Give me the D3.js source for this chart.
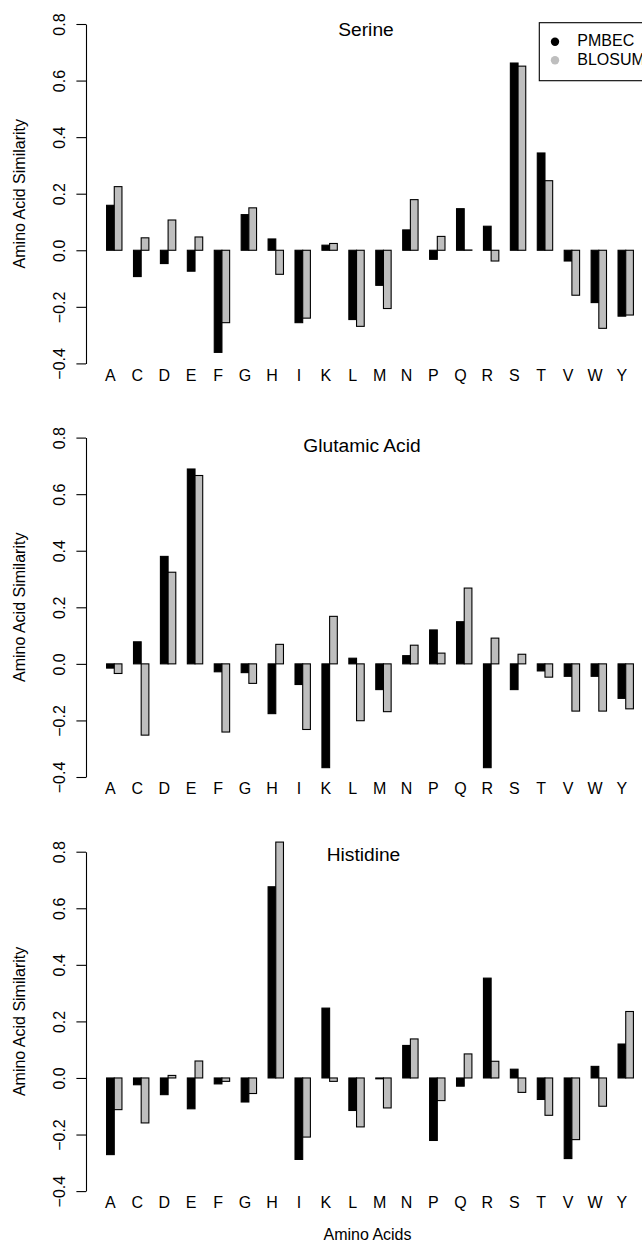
<!DOCTYPE html>
<html><head><meta charset="utf-8">
<script src="https://cdn.jsdelivr.net/npm/d3@7/dist/d3.min.js"></script>
<style>
body{margin:0;background:#fff}
svg text{font-family:"Liberation Sans",Arial,Helvetica,sans-serif}
</style>
</head><body>
<svg id="chart" width="642" height="1241"></svg>
<script>
const aminoAcids = ["A","C","D","E","F","G","H","I","K","L","M","N","P","Q","R","S","T","V","W","Y"];
const panelTitles = ["Serine","Glutamic Acid","Histidine"];
const seriesNames = ["PMBEC","BLOSUM"];
const yTicks = [-0.4,-0.2,0.0,0.2,0.4,0.6,0.8];
const yLabel = "Amino Acid Similarity";
const xLabel = "Amino Acids";

const serinePMBEC  = [0.159,-0.093,-0.047,-0.074,-0.361,0.126,0.040,-0.256,0.018,-0.245,-0.124,0.072,-0.032,0.147,0.085,0.662,0.344,-0.038,-0.185,-0.233];
const serineBLOSUM = [0.225,0.044,0.107,0.047,-0.256,0.150,-0.085,-0.240,0.024,-0.269,-0.206,0.179,0.049,0.001,-0.038,0.651,0.246,-0.159,-0.276,-0.229];
const glutamicPMBEC  = [-0.015,0.078,0.380,0.689,-0.028,-0.031,-0.176,-0.073,-0.367,0.020,-0.091,0.029,0.120,0.149,-0.367,-0.091,-0.025,-0.044,-0.044,-0.122];
const glutamicBLOSUM = [-0.034,-0.252,0.324,0.666,-0.241,-0.069,0.069,-0.232,0.168,-0.201,-0.169,0.066,0.038,0.268,0.091,0.034,-0.047,-0.167,-0.167,-0.159];
const histidinePMBEC  = [-0.271,-0.024,-0.059,-0.109,-0.021,-0.085,0.676,-0.288,0.247,-0.115,-0.003,0.115,-0.221,-0.029,0.353,0.031,-0.076,-0.285,0.041,0.120];
const histidineBLOSUM = [-0.112,-0.159,0.009,0.060,-0.012,-0.055,0.834,-0.209,-0.012,-0.173,-0.106,0.138,-0.080,0.085,0.059,-0.051,-0.132,-0.218,-0.100,0.235];

const panels = [
  {title: panelTitles[0], series: [serinePMBEC, serineBLOSUM]},
  {title: panelTitles[1], series: [glutamicPMBEC, glutamicBLOSUM]},
  {title: panelTitles[2], series: [histidinePMBEC, histidineBLOSUM]}
];
const colors = ["#000000", "#bebebe"];

// layout
const panelTops = [24, 437.6, 851.7];
const panelH = 339.4;
const titlePos = [{x:366, y:35.5}, {x:362, y:451.5}, {x:363.5, y:860.5}];
const svg = d3.select("#chart");
const F = 16;

const x = d3.scaleLinear().domain([-1.24, 72.74]).range([85.5, 654.5]);
const axisX = 86;

panels.forEach((p, pi) => {
  const top = panelTops[pi], bottom = top + panelH;
  const y = d3.scaleLinear().domain([-0.4, 0.8]).range([bottom, top]);
  const g = svg.append("g");

  // bars
  p.series.forEach((vals, si) => {
    g.selectAll(null).data(vals).enter().append("rect")
      .attr("x", (d, i) => x(1.5 + 3.5 * i + si))
      .attr("width", x(1) - x(0))
      .attr("y", d => y(Math.max(0, d)))
      .attr("height", d => Math.abs(y(d) - y(0)))
      .attr("fill", colors[si])
      .attr("stroke", "#000")
      .attr("stroke-width", 1.1);
  });

  // y axis
  const ax = g.append("g").attr("transform", `translate(${axisX},0)`)
    .call(d3.axisLeft(y).tickValues(yTicks).tickSize(9.6).tickSizeOuter(0)
      .tickFormat(d => (d < 0 ? "\u2212" : "") + Math.abs(d).toFixed(1)));
  ax.select(".domain").attr("stroke-width", 1.1);
  ax.selectAll(".tick line").attr("stroke-width", 1.1);
  ax.selectAll(".tick text")
    .attr("x", null).attr("dy", null)
    .attr("transform", "translate(-21.3,0) rotate(-90)")
    .attr("text-anchor", "middle")
    .attr("font-size", F)
    .attr("font-family", "Liberation Sans, Arial, sans-serif")
    .attr("fill", "#000");

  // x category labels
  g.selectAll(null).data(aminoAcids).enter().append("text")
    .attr("x", (d, i) => x(1.5 + 3.5 * i + 0.5))
    .attr("y", bottom + 17.3)
    .attr("text-anchor", "middle")
    .attr("font-size", F)
    .text(d => d);

  // y label
  g.append("text")
    .attr("transform", `translate(24.5,${(top + bottom) / 2}) rotate(-90)`)
    .attr("text-anchor", "middle")
    .attr("font-size", F)
    .text(yLabel);

  // title
  g.append("text")
    .attr("x", titlePos[pi].x).attr("y", titlePos[pi].y)
    .attr("text-anchor", "middle")
    .attr("font-size", 19.2)
    .text(p.title);
});

// x axis title
svg.append("text").attr("x", 367.5).attr("y", 1239.5)
  .attr("text-anchor", "middle").attr("font-size", F).text(xLabel);

// legend
const lg = svg.append("g");
lg.append("rect").attr("x", 539.3).attr("y", 22.7).attr("width", 140).attr("height", 58)
  .attr("fill", "#fff").attr("stroke", "#000").attr("stroke-width", 1.1);
seriesNames.forEach((s, i) => {
  lg.append("circle").attr("cx", 555).attr("cy", 41.7 + i * 18.5).attr("r", 4.2).attr("fill", colors[i]);
  lg.append("text").attr("x", 577.3).attr("y", 45.8 + i * 18.8).attr("font-size", F).text(s === "BLOSUM" ? "BLOSUM62" : s);
});
</script>
</body></html>
